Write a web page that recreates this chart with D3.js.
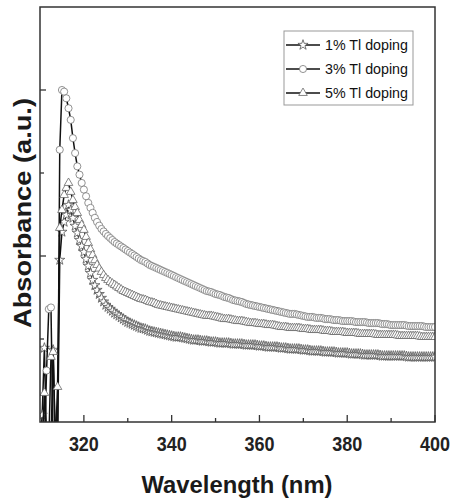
<!DOCTYPE html>
<html>
<meta charset=utf-8>
<head>
<style>
  body { margin: 0; background: #fff; }
  text { font-family: "Liberation Sans", Arial, sans-serif; }
</style>
</head>
<body>
<svg id="canvas" width="452" height="504"></svg>
<script src="https://d3js.org/d3.v7.min.js"></script>
<script>

// wavelength grid (nm), 0.5 nm sampling
var wavelengths = [
  310, 310.5, 311, 311.5, 312, 312.5, 313, 313.5, 314, 314.5,
  315, 315.5, 316, 316.5, 317, 317.5, 318, 318.5, 319, 319.5,
  320, 320.5, 321, 321.5, 322, 322.5, 323, 323.5, 324, 324.5,
  325, 325.5, 326, 326.5, 327, 327.5, 328, 328.5, 329, 329.5,
  330, 330.5, 331, 331.5, 332, 332.5, 333, 333.5, 334, 334.5,
  335, 335.5, 336, 336.5, 337, 337.5, 338, 338.5, 339, 339.5,
  340, 340.5, 341, 341.5, 342, 342.5, 343, 343.5, 344, 344.5,
  345, 345.5, 346, 346.5, 347, 347.5, 348, 348.5, 349, 349.5,
  350, 350.5, 351, 351.5, 352, 352.5, 353, 353.5, 354, 354.5,
  355, 355.5, 356, 356.5, 357, 357.5, 358, 358.5, 359, 359.5,
  360, 360.5, 361, 361.5, 362, 362.5, 363, 363.5, 364, 364.5,
  365, 365.5, 366, 366.5, 367, 367.5, 368, 368.5, 369, 369.5,
  370, 370.5, 371, 371.5, 372, 372.5, 373, 373.5, 374, 374.5,
  375, 375.5, 376, 376.5, 377, 377.5, 378, 378.5, 379, 379.5,
  380, 380.5, 381, 381.5, 382, 382.5, 383, 383.5, 384, 384.5,
  385, 385.5, 386, 386.5, 387, 387.5, 388, 388.5, 389, 389.5,
  390, 390.5, 391, 391.5, 392, 392.5, 393, 393.5, 394, 394.5,
  395, 395.5, 396, 396.5, 397, 397.5, 398, 398.5, 399, 399.5,
  400];

// absorbance (a.u.), 1% Tl
var tl1 = [
  -0.14, 0.042, 0.446, -0.14, -0.14, -0.14, 0.434, -0.14, -0.14, 0.976,
  1.145, 1.205, 1.247, 1.307, 1.277, 1.229, 1.181, 1.139, 1.096, 1.060,
  1.024, 0.982, 0.940, 0.897, 0.855, 0.823, 0.795, 0.770, 0.747, 0.725,
  0.705, 0.692, 0.681, 0.669, 0.657, 0.648, 0.639, 0.629, 0.620, 0.611,
  0.602, 0.596, 0.590, 0.584, 0.578, 0.572, 0.566, 0.563, 0.560, 0.554,
  0.548, 0.545, 0.542, 0.539, 0.536, 0.533, 0.530, 0.527, 0.524, 0.521,
  0.518, 0.515, 0.512, 0.512, 0.512, 0.509, 0.506, 0.503, 0.500, 0.497,
  0.494, 0.494, 0.494, 0.491, 0.488, 0.488, 0.488, 0.485, 0.482, 0.482,
  0.482, 0.479, 0.476, 0.476, 0.476, 0.476, 0.476, 0.473, 0.470, 0.470,
  0.470, 0.470, 0.470, 0.467, 0.464, 0.464, 0.464, 0.464, 0.464, 0.461,
  0.458, 0.458, 0.458, 0.455, 0.452, 0.452, 0.452, 0.452, 0.452, 0.449,
  0.446, 0.446, 0.446, 0.443, 0.440, 0.440, 0.440, 0.440, 0.440, 0.437,
  0.434, 0.434, 0.434, 0.431, 0.428, 0.428, 0.428, 0.428, 0.428, 0.425,
  0.422, 0.422, 0.422, 0.422, 0.422, 0.419, 0.416, 0.416, 0.416, 0.416,
  0.416, 0.413, 0.410, 0.410, 0.410, 0.410, 0.410, 0.407, 0.404, 0.404,
  0.404, 0.404, 0.404, 0.404, 0.404, 0.401, 0.398, 0.398, 0.398, 0.398,
  0.398, 0.398, 0.398, 0.398, 0.398, 0.398, 0.398, 0.395, 0.392, 0.392,
  0.392, 0.392, 0.392, 0.392, 0.392, 0.392, 0.392, 0.392, 0.392, 0.392,
  0.392];

// absorbance (a.u.), 3% Tl
var tl3 = [
  -0.14, -0.14, -0.14, 0.31, 0.68, 0.69, -0.14, -0.14, -0.14, 1.64,
  2.00, 1.99, 1.95, 1.89, 1.82, 1.71, 1.62, 1.54, 1.49, 1.44,
  1.40, 1.36, 1.32, 1.29, 1.26, 1.23, 1.205, 1.183, 1.163, 1.148,
  1.133, 1.120, 1.108, 1.096, 1.084, 1.075, 1.066, 1.057, 1.048, 1.039,
  1.030, 1.021, 1.012, 1.003, 0.994, 0.985, 0.976, 0.970, 0.964, 0.955,
  0.946, 0.940, 0.934, 0.928, 0.922, 0.916, 0.910, 0.904, 0.898, 0.892,
  0.886, 0.880, 0.873, 0.867, 0.861, 0.855, 0.849, 0.843, 0.837, 0.831,
  0.825, 0.819, 0.813, 0.807, 0.801, 0.795, 0.789, 0.786, 0.783, 0.777,
  0.771, 0.768, 0.765, 0.759, 0.753, 0.750, 0.747, 0.741, 0.735, 0.732,
  0.729, 0.726, 0.723, 0.717, 0.711, 0.708, 0.705, 0.702, 0.699, 0.696,
  0.693, 0.690, 0.687, 0.684, 0.681, 0.678, 0.675, 0.672, 0.669, 0.666,
  0.663, 0.660, 0.657, 0.654, 0.651, 0.651, 0.651, 0.648, 0.645, 0.642,
  0.639, 0.636, 0.633, 0.633, 0.633, 0.630, 0.627, 0.627, 0.627, 0.624,
  0.620, 0.620, 0.620, 0.617, 0.614, 0.614, 0.614, 0.611, 0.608, 0.608,
  0.608, 0.608, 0.608, 0.605, 0.602, 0.602, 0.602, 0.602, 0.602, 0.599,
  0.596, 0.596, 0.596, 0.596, 0.596, 0.593, 0.590, 0.590, 0.590, 0.587,
  0.584, 0.584, 0.584, 0.584, 0.584, 0.584, 0.584, 0.581, 0.578, 0.578,
  0.578, 0.578, 0.578, 0.578, 0.578, 0.575, 0.572, 0.572, 0.572, 0.572,
  0.572];

// absorbance (a.u.), 5% Tl
var tl5 = [
  -0.14, -0.14, 0.175, -0.14, -0.14, 0.392, 0.422, -0.14, 0.211, 1.169,
  1.277, 1.367, 1.410, 1.440, 1.386, 1.337, 1.295, 1.259, 1.217, 1.187,
  1.157, 1.115, 1.078, 1.040, 1.006, 0.975, 0.946, 0.924, 0.904, 0.885,
  0.867, 0.855, 0.843, 0.834, 0.825, 0.816, 0.807, 0.798, 0.789, 0.783,
  0.777, 0.771, 0.765, 0.759, 0.753, 0.747, 0.741, 0.738, 0.735, 0.729,
  0.723, 0.720, 0.717, 0.711, 0.705, 0.702, 0.699, 0.696, 0.693, 0.690,
  0.687, 0.684, 0.681, 0.678, 0.675, 0.672, 0.669, 0.666, 0.663, 0.660,
  0.657, 0.654, 0.651, 0.648, 0.645, 0.642, 0.639, 0.639, 0.639, 0.636,
  0.633, 0.630, 0.627, 0.623, 0.620, 0.620, 0.620, 0.617, 0.614, 0.611,
  0.608, 0.608, 0.608, 0.605, 0.602, 0.599, 0.596, 0.596, 0.596, 0.593,
  0.590, 0.590, 0.590, 0.587, 0.584, 0.584, 0.584, 0.581, 0.578, 0.575,
  0.572, 0.572, 0.572, 0.569, 0.566, 0.566, 0.566, 0.566, 0.566, 0.563,
  0.560, 0.560, 0.560, 0.557, 0.554, 0.554, 0.554, 0.554, 0.554, 0.551,
  0.548, 0.548, 0.548, 0.545, 0.542, 0.542, 0.542, 0.542, 0.542, 0.539,
  0.536, 0.536, 0.536, 0.536, 0.536, 0.533, 0.530, 0.530, 0.530, 0.530,
  0.530, 0.530, 0.530, 0.527, 0.524, 0.524, 0.524, 0.524, 0.524, 0.524,
  0.524, 0.524, 0.524, 0.521, 0.518, 0.518, 0.518, 0.518, 0.518, 0.518,
  0.518, 0.518, 0.518, 0.515, 0.512, 0.512, 0.512, 0.512, 0.512, 0.512,
  0.512];

var seriesNames = ['1% Tl doping', '3% Tl doping', '5% Tl doping'];
var xTickValues = [320, 340, 360, 380, 400];

var margin = {left: 40, top: 7, right: 17, bottom: 82};
var W = 452, H = 504;
var pw = W - margin.left - margin.right;
var ph = H - margin.top - margin.bottom;

var svg = d3.select('#canvas');

var x = d3.scaleLinear().domain([310, 400]).range([margin.left, margin.left + pw]);
var y = d3.scaleLinear().domain([0, 2.5]).range([margin.top + ph, margin.top]);

svg.append('clipPath').attr('id', 'plot')
  .append('rect')
  .attr('x', margin.left).attr('y', margin.top)
  .attr('width', pw).attr('height', ph);

var series = [
  {name: seriesNames[0], values: tl1, symbol: d3.symbolStar, size: 32, stroke: '#555'},
  {name: seriesNames[1], values: tl3, symbol: d3.symbolCircle, size: 40, stroke: '#777'},
  {name: seriesNames[2], values: tl5, symbol: d3.symbolTriangle, size: 32, stroke: '#6a6a6a'}
];

var line = d3.line()
  .x(function(d) { return x(d.x) })
  .y(function(d) { return y(d.y) });

var plot = svg.append('g').attr('clip-path', 'url(#plot)');

series.forEach(function(s) {
  var pts = wavelengths.map(function(w, i) { return {x: w, y: s.values[i]} });
  var g = plot.append('g');
  g.append('path')
    .datum(pts)
    .attr('d', line)
    .attr('fill', 'none')
    .attr('stroke', '#111')
    .attr('stroke-width', 1.5);
  g.selectAll('path.m')
    .data(pts)
    .enter()
    .append('path')
    .attr('class', 'm')
    .attr('d', d3.symbol().type(s.symbol).size(s.size))
    .attr('transform', function(d) { return 'translate(' + x(d.x) + ',' + y(d.y) + ')' })
    .attr('fill', '#fff')
    .attr('stroke', s.stroke)
    .attr('stroke-width', 0.8);
});

// inward ticks on the bottom axis, labels every 20 nm
var gx = svg.append('g').attr('transform', 'translate(0,' + (margin.top + ph) + ')');
gx.selectAll('line')
  .data(d3.range(320, 401, 10))
  .enter()
  .append('line')
  .attr('x1', function(d) { return x(d) })
  .attr('x2', function(d) { return x(d) })
  .attr('y1', 0)
  .attr('y2', function(d) { return d % 20 === 0 ? -7 : -4 })
  .attr('stroke', '#333')
  .attr('stroke-width', 1.3);
gx.selectAll('text')
  .data(xTickValues)
  .enter()
  .append('text')
  .attr('x', function(d) { return x(d) })
  .attr('y', 29)
  .attr('text-anchor', 'middle')
  .attr('font-size', 20)
  .attr('font-weight', 'bold')
  .attr('textLength', 30)
  .attr('lengthAdjust', 'spacingAndGlyphs')
  .attr('fill', '#222')
  .text(function(d) { return d });

// left axis: ticks only
var gy = svg.append('g').attr('transform', 'translate(' + margin.left + ',0)');
gy.selectAll('line')
  .data([0.5, 1, 1.5, 2])
  .enter()
  .append('line')
  .attr('x1', 0)
  .attr('x2', function(d) { return d % 1 === 0 ? 6 : 4 })
  .attr('y1', function(d) { return y(d) })
  .attr('y2', function(d) { return y(d) })
  .attr('stroke', '#333')
  .attr('stroke-width', 1.3);

// frame
svg.append('rect')
  .attr('x', margin.left).attr('y', margin.top)
  .attr('width', pw).attr('height', ph)
  .attr('fill', 'none')
  .attr('stroke', '#333')
  .attr('stroke-width', 1.5);

svg.append('text')
  .attr('x', 237)
  .attr('y', 493)
  .attr('text-anchor', 'middle')
  .attr('font-size', 24)
  .attr('font-weight', 'bold')
  .attr('textLength', 191)
  .attr('lengthAdjust', 'spacingAndGlyphs')
  .attr('fill', '#1a1a1a')
  .text('Wavelength (nm)');

svg.append('text')
  .attr('transform', 'translate(31,213) rotate(-90)')
  .attr('text-anchor', 'middle')
  .attr('font-size', 23)
  .attr('font-weight', 'bold')
  .attr('textLength', 230)
  .attr('lengthAdjust', 'spacingAndGlyphs')
  .attr('fill', '#1a1a1a')
  .text('Absorbance (a.u.)');

// legend
var lg = svg.append('g');
lg.append('rect')
  .attr('x', 284).attr('y', 31)
  .attr('width', 129).attr('height', 74)
  .attr('fill', '#fff')
  .attr('stroke', '#999')
  .attr('stroke-width', 1);

series.forEach(function(s, i) {
  var ly = 45 + i * 24;
  lg.append('line')
    .attr('x1', 286).attr('x2', 320)
    .attr('y1', ly).attr('y2', ly)
    .attr('stroke', '#111')
    .attr('stroke-width', 1.5);
  lg.append('path')
    .attr('d', d3.symbol().type(s.symbol).size(s.size)())
    .attr('transform', 'translate(303,' + ly + ')')
    .attr('fill', '#fff')
    .attr('stroke', s.stroke)
    .attr('stroke-width', 0.8);
  lg.append('text')
    .attr('x', 325).attr('y', ly + 5)
    .attr('font-size', 15)
    .attr('textLength', 83)
    .attr('lengthAdjust', 'spacingAndGlyphs')
    .attr('fill', '#111')
    .text(s.name);
});

</script>
</body>
</html>
